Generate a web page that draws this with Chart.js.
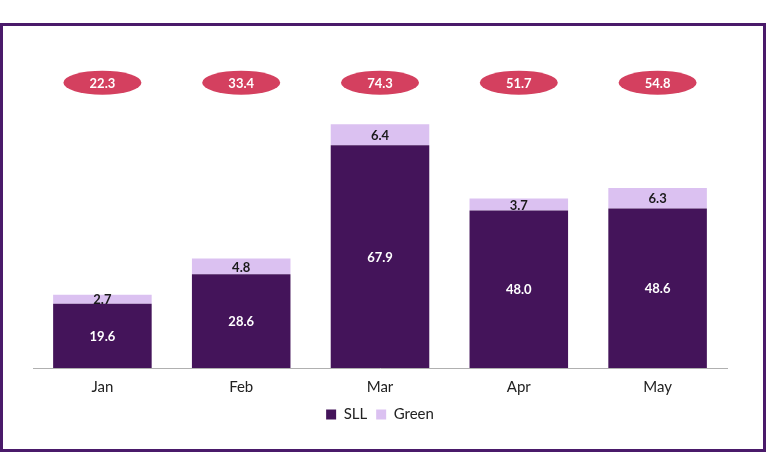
<!DOCTYPE html>
<html>
<head>
<meta charset="utf-8">
<script src="https://cdn.jsdelivr.net/npm/chart.js@4"></script>
<style>
    html, body { margin: 0; padding: 0; background: #fff; }
    #wrap { position: relative; width: 768px; height: 471px; }
    #frame {
        position: absolute; left: 0; top: 23px; width: 760px; height: 423px;
        border: 3px solid #4a1a6a; pointer-events: none;
    }
    canvas { position: absolute; left: 0; top: 0; }
</style>
</head>
<body>
<div id="wrap">
    <canvas id="chart" width="768" height="471"></canvas>
    <div id="frame"></div>
</div>
<script>
const months = ['Jan', 'Feb', 'Mar', 'Apr', 'May'];
const sllValues = [19.6, 28.6, 67.9, 48.0, 48.6];
const greenValues = [2.7, 4.8, 6.4, 3.7, 6.3];
const totals = [22.3, 33.4, 74.3, 51.7, 54.8];

const FONT = 'Lato, "Noto Sans", sans-serif';

// values inside bars
const barLabels = {
    id: 'barLabels',
    afterDatasetsDraw(chart) {
        const ctx = chart.ctx;
        ctx.save();
        ctx.font = 'bold 13px ' + FONT;
        ctx.textAlign = 'center';
        ctx.textBaseline = 'middle';
        chart.data.datasets.forEach((ds, i) => {
            const meta = chart.getDatasetMeta(i);
            meta.data.forEach((bar, j) => {
                const v = ds.data[j];
                const y = (bar.y + bar.base) / 2;
                ctx.fillStyle = i === 0 ? '#ffffff' : '#1a1a1a';
                ctx.fillText(v.toFixed(1), bar.x, y + 1);
            });
        });
        ctx.restore();
    }
};

// red ellipses with totals
const totalBubbles = {
    id: 'totalBubbles',
    afterDraw(chart) {
        const ctx = chart.ctx;
        const x = chart.scales.x;
        const y = chart.scales.y;
        const cy = y.getPixelForValue(87);
        ctx.save();
        totals.forEach((t, i) => {
            const cx = x.getPixelForValue(i);
            ctx.beginPath();
            ctx.ellipse(cx, cy, 39, 12, 0, 0, Math.PI * 2);
            ctx.fillStyle = '#d4405f';
            ctx.fill();
            ctx.fillStyle = '#ffffff';
            ctx.font = 'bold 13px ' + FONT;
            ctx.textAlign = 'center';
            ctx.textBaseline = 'middle';
            ctx.fillText(t.toFixed(1), cx, cy + 1);
        });
        ctx.restore();
    }
};

new Chart(document.getElementById('chart').getContext('2d'), {
    type: 'bar',
    data: {
        labels: months,
        datasets: [
            { label: 'SLL', data: sllValues, backgroundColor: '#44145a', categoryPercentage: 1, barPercentage: 0.71 },
            { label: 'Green', data: greenValues, backgroundColor: '#dbc1f1', categoryPercentage: 1, barPercentage: 0.71 }
        ]
    },
    options: {
        responsive: false,
        animation: false,
        layout: { padding: { left: 33, right: 41, top: 40, bottom: 39 } },
        scales: {
            x: {
                stacked: true,
                grid: { display: false },
                border: { color: '#b0b0b0', width: 1 },
                ticks: { color: '#222', font: { family: FONT, size: 15 }, padding: 2 }
            },
            y: {
                stacked: true,
                display: false,
                min: 0,
                max: 100
            }
        },
        plugins: {
            legend: {
                position: 'bottom',
                labels: {
                    color: '#222',
                    font: { family: FONT, size: 15 },
                    boxWidth: 10,
                    boxHeight: 10,
                    padding: 9
                }
            },
            tooltip: { enabled: false }
        }
    },
    plugins: [barLabels, totalBubbles]
});
</script>
</body>
</html>
